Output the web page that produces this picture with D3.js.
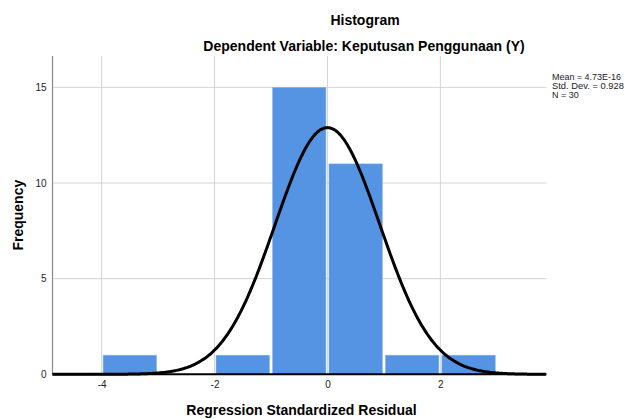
<!DOCTYPE html>
<html>
<head>
<meta charset="utf-8">
<script src="https://cdn.jsdelivr.net/npm/d3@7"></script>
<style>
  body { margin: 0; background: #fff; }
  text { font-family: "Liberation Sans", Arial, sans-serif; }
</style>
</head>
<body>
<div id="chart"></div>
<script>
// Histogram of regression standardized residuals (SPSS style)

////////////////////////////////////////////////////////////////////////
// Data

let binStarts = [-4, -3, -2, -1, 0, 1, 2];
let binWidth = 1;
let frequencies = [1, 0, 1, 15, 11, 1, 1];

let statMean = 4.73e-16;
let statSD = 0.928;
let statN = 30;
let statLabels = ["Mean = 4.73E-16", "Std. Dev. = 0.928", "N = 30"];

let xTicks = [-4, -2, 0, 2];
let yTicks = [0, 5, 10, 15];

////////////////////////////////////////////////////////////////////////
// SVG Setup

let width = 624, height = 419;
let plot = { left: 52.5, right: 546.5, top: 56, bottom: 374.3 };

let svg = d3.select("#chart")
  .append("svg")
  .attr("width", width).attr("height", height);

let xScale = d3.scaleLinear().domain([-4.87, 3.88]).range([plot.left, plot.right]);
let yScale = d3.scaleLinear().domain([0, 16.64]).range([plot.bottom, plot.top]);

let bins = binStarts.map((s, i) => ({ x0: s, x1: s + binWidth, count: frequencies[i] }));

////////////////////////////////////////////////////////////////////////
// Grid lines

svg.append("g")
  .selectAll("line")
  .data(xTicks)
  .enter().append("line")
  .attr("x1", d => xScale(d)).attr("x2", d => xScale(d))
  .attr("y1", plot.top).attr("y2", plot.bottom)
  .style("stroke", "#d4d4d4").style("stroke-width", 1);

svg.append("g")
  .selectAll("line")
  .data(yTicks.filter(d => d > 0))
  .enter().append("line")
  .attr("x1", plot.left).attr("x2", plot.right)
  .attr("y1", d => yScale(d)).attr("y2", d => yScale(d))
  .style("stroke", "#d4d4d4").style("stroke-width", 1);

////////////////////////////////////////////////////////////////////////
// Bars

svg.append("g")
  .selectAll("rect")
  .data(bins.filter(d => d.count > 0))
  .enter().append("rect")
  .attr("x", d => xScale(d.x0) + 1.5)
  .attr("width", d => xScale(d.x1) - xScale(d.x0) - 3)
  .attr("y", d => yScale(d.count))
  .attr("height", d => yScale(0) - yScale(d.count))
  .style("fill", "#5593e3")
  .style("stroke", "#8db6ec")
  .style("stroke-width", 0.5);

////////////////////////////////////////////////////////////////////////
// Axes

// left axis line
svg.append("line")
  .attr("x1", plot.left).attr("x2", plot.left)
  .attr("y1", plot.top).attr("y2", plot.bottom)
  .style("stroke", "#8a8a8a").style("stroke-width", 1.2);

let yAxis = d3.axisLeft(yScale).tickValues(yTicks).tickSize(0).tickPadding(6)
  .tickFormat(d => String(d));
svg.append("g")
  .attr("transform", `translate(${plot.left},0)`)
  .call(yAxis)
  .call(g => g.select(".domain").remove())
  .selectAll("text")
  .style("font-size", "10px").style("fill", "#222")
  .style("font-family", "'Liberation Sans', Arial, sans-serif");

let xAxis = d3.axisBottom(xScale).tickValues(xTicks).tickSize(0).tickPadding(7)
  .tickFormat(d => String(d));
svg.append("g")
  .attr("transform", `translate(0,${plot.bottom})`)
  .call(xAxis)
  .call(g => g.select(".domain").remove())
  .selectAll("text")
  .style("font-size", "10px").style("fill", "#222")
  .style("font-family", "'Liberation Sans', Arial, sans-serif");

////////////////////////////////////////////////////////////////////////
// Normal curve from the reported mean, std. dev. and N

let peak = statN * binWidth / (statSD * Math.sqrt(2 * Math.PI));
let curveX = d3.range(xScale.domain()[0], xScale.domain()[1] + 0.001, 0.02);

let curve = d3.line()
  .x(d => xScale(d))
  .y(d => yScale(peak * Math.exp(-Math.pow(d - statMean, 2) / (2 * statSD * statSD))))
  .curve(d3.curveBasis);

// bottom baseline
svg.append("line")
  .attr("x1", plot.left).attr("x2", plot.right)
  .attr("y1", plot.bottom).attr("y2", plot.bottom)
  .style("stroke", "#000").style("stroke-width", 2);

svg.append("path")
  .datum(curveX)
  .attr("d", curve)
  .style("fill", "none")
  .style("stroke", "#000")
  .style("stroke-width", 3);

////////////////////////////////////////////////////////////////////////
// Titles

svg.append("text")
  .attr("x", 365).attr("y", 25)
  .attr("text-anchor", "middle")
  .style("font-size", "14px").style("font-weight", "bold")
  .text("Histogram");

svg.append("text")
  .attr("x", 364).attr("y", 51)
  .attr("text-anchor", "middle")
  .style("font-size", "14px").style("font-weight", "bold")
  .text("Dependent Variable: Keputusan Penggunaan (Y)");

svg.append("text")
  .attr("x", (plot.left + plot.right) / 2 + 2).attr("y", 415)
  .attr("text-anchor", "middle")
  .style("font-size", "14px").style("font-weight", "bold")
  .text("Regression Standardized Residual");

svg.append("text")
  .attr("transform", `translate(23,${(plot.top + plot.bottom) / 2}) rotate(-90)`)
  .attr("text-anchor", "middle")
  .style("font-size", "14px").style("font-weight", "bold")
  .text("Frequency");

// statistics box
svg.append("g")
  .selectAll("text")
  .data(statLabels)
  .enter().append("text")
  .attr("x", 552)
  .attr("y", (d, i) => 80 + i * 9)
  .style("font-size", "9px").style("fill", "#222")
  .attr("textLength", (d, i) => [69, 72, 0][i] || null)
  .attr("lengthAdjust", "spacingAndGlyphs")
  .text(d => d);
</script>
</body>
</html>
